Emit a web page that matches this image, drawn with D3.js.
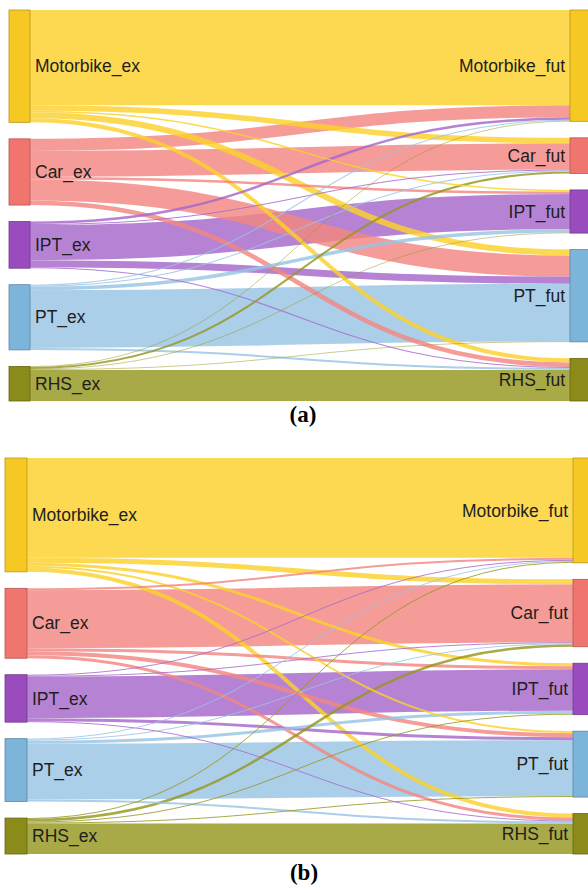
<!DOCTYPE html>
<html><head><meta charset="utf-8">
<script src="https://cdn.jsdelivr.net/npm/d3@7"></script>
<style>body{margin:0;background:#fff} svg{display:block}</style>
</head><body>
<svg id="chart" width="588" height="893"></svg>
<script>
// ---- data ----
const modes = ["Motorbike", "Car", "IPT", "PT", "RHS"];
const sourceLabels = modes.map(m => m + "_ex");
const targetLabels = modes.map(m => m + "_fut");
// rows: existing mode, columns: future mode [Motorbike, Car, IPT, PT, RHS]
const flowsA = [
  [95, 5.5, 1.5, 6, 4],
  [12, 26, 2.5, 21, 4.5],
  [2.5, 1, 35, 7, 1],
  [1, 1, 3.5, 57.5, 2],
  [0.5, 2, 0.5, 0.5, 31]
];
const flowsB = [
  [100, 5, 3, 2, 4],
  [2, 58, 3, 4, 3],
  [1, 1, 41.5, 3, 1],
  [1, 1, 3, 56, 2],
  [1, 2.5, 1, 1, 30.5]
];
const panelLabels = ["(a)", "(b)"];
const nodeColors = ["#F6C823", "#F0756F", "#9A4CBE", "#7DB4DA", "#8B8B1A"];
const linkColors = ["#FDD12B", "#F38681", "#A668CB", "#99C4E4", "#95961E"];

// ---- drawing ----
const svg = d3.select("#chart");

function drawSankey(flows, cfg) {
  const n = modes.length;
  const total = d3.sum(flows, r => d3.sum(r));
  const pad = cfg.pad;
  const ky = d3.scaleLinear().domain([0, total]).range([0, (cfg.y1 - cfg.y0) - (n - 1) * pad]);
  const outSum = flows.map(r => d3.sum(r));
  const inSum = modes.map((_, j) => d3.sum(flows, r => r[j]));

  const left = [], right = [];
  let y = cfg.y0;
  outSum.forEach((v, i) => { left.push({i, y0: y, y1: y + ky(v)}); y += ky(v) + pad; });
  y = cfg.y0;
  inSum.forEach((v, j) => { right.push({j, y0: y, y1: y + ky(v)}); y += ky(v) + pad; });

  const links = [];
  const srcOff = left.map(d => d.y0);
  const tgtOff = right.map(d => d.y0);
  for (let i = 0; i < n; i++) {
    for (let j = 0; j < n; j++) {
      const v = flows[i][j];
      const w = ky(v);
      links.push({i, j, v, w, sy: srcOff[i] + w / 2, ty: 0});
      srcOff[i] += w;
    }
  }
  for (let j = 0; j < n; j++) {
    for (let i = 0; i < n; i++) {
      const l = links.find(d => d.i === i && d.j === j);
      l.ty = tgtOff[j] + l.w / 2;
      tgtOff[j] += l.w;
    }
  }
  const g = svg.append("g");
  const lk = d3.linkHorizontal();
  g.append("g").selectAll("path")
    .data(links.slice().sort((a, b) => b.v - a.v))
    .join("path")
    .attr("d", d => lk({source: [cfg.lx1, d.sy], target: [cfg.rx0, d.ty]}))
    .attr("fill", "none")
    .attr("stroke", d => linkColors[d.i])
    .attr("stroke-opacity", 0.82)
    .attr("stroke-width", d => Math.max(0.6, d.w));

  g.append("g").selectAll("rect").data(left).join("rect")
    .attr("x", cfg.lx0).attr("y", d => d.y0)
    .attr("width", cfg.lx1 - cfg.lx0).attr("height", d => d.y1 - d.y0)
    .attr("fill", d => nodeColors[d.i])
    .attr("stroke", d => d3.color(nodeColors[d.i]).darker(0.8))
    .attr("stroke-width", 0.8);
  g.append("g").selectAll("rect").data(right).join("rect")
    .attr("x", cfg.rx0).attr("y", d => d.y0)
    .attr("width", cfg.rx1 - cfg.rx0).attr("height", d => d.y1 - d.y0)
    .attr("fill", d => nodeColors[d.j])
    .attr("stroke", d => d3.color(nodeColors[d.j]).darker(0.8))
    .attr("stroke-width", 0.8);

  g.append("g").selectAll("text").data(left).join("text")
    .attr("x", cfg.lx1 + 5).attr("y", d => (d.y0 + d.y1) / 2)
    .attr("dy", "0.35em")
    .attr("font-family", "Liberation Sans, Arial, sans-serif")
    .attr("font-size", 17.5).attr("fill", "#1e1e1e")
    .text(d => sourceLabels[d.i]);
  g.append("g").selectAll("text").data(right).join("text")
    .attr("x", cfg.rx0 - 5).attr("y", d => (d.y0 + d.y1) / 2)
    .attr("dy", "0.35em").attr("text-anchor", "end")
    .attr("font-family", "Liberation Sans, Arial, sans-serif")
    .attr("font-size", 17.5).attr("fill", "#1e1e1e")
    .text(d => targetLabels[d.j]);

  g.append("text")
    .attr("x", cfg.capX).attr("y", cfg.capY)
    .attr("text-anchor", "middle")
    .attr("font-family", "Liberation Serif, Times New Roman, serif")
    .attr("font-weight", "bold").attr("font-size", 23).attr("fill", "#000")
    .text(cfg.caption);
}

drawSankey(flowsA, {y0: 10, y1: 401, pad: 16.5, lx0: 9, lx1: 30, rx0: 570, rx1: 592,
  caption: panelLabels[0], capX: 303, capY: 422});
drawSankey(flowsB, {y0: 458, y1: 854, pad: 16.5, lx0: 5, lx1: 27, rx0: 573, rx1: 595,
  caption: panelLabels[1], capX: 304, capY: 880});
</script>
</body></html>
